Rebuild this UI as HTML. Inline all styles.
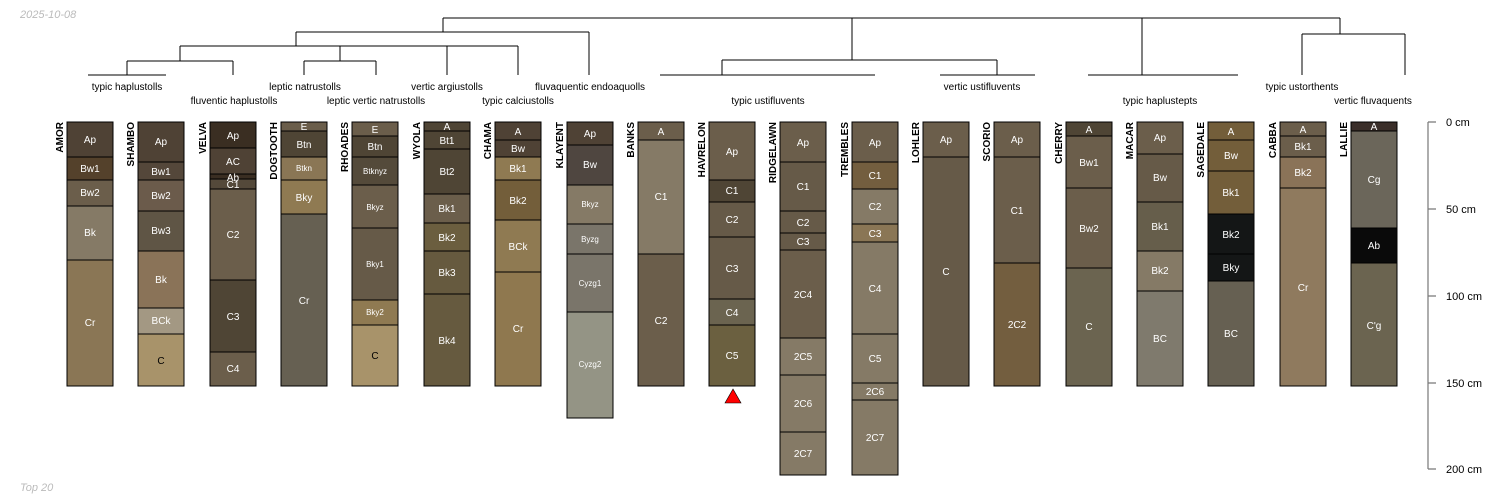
<!DOCTYPE html>
<html><head><meta charset="utf-8"><style>
html,body{margin:0;padding:0;background:#fff;}
svg{display:block;font-family:"Liberation Sans",sans-serif;}
.h text{fill:#fff;font-size:10px;text-anchor:middle;}
.h rect{stroke:#000;stroke-width:1;}
.n{font-size:10px;font-weight:bold;fill:#000;}
.d{stroke:#000;stroke-width:1;fill:none;}
.t{font-size:10px;fill:#000;text-anchor:middle;}
</style></head><body>
<svg width="1500" height="500" viewBox="0 0 1500 500" xmlns="http://www.w3.org/2000/svg">
<text x="20" y="18" font-size="11" font-style="italic" fill="#bbb">2025-10-08</text>
<text x="20" y="491" font-size="11" font-style="italic" fill="#bbb">Top 20</text>

<!-- dendrogram -->
<g class="d">
<path d="M443 18H1340M443 18V32M296 32H589M589 32V75M296 32V46M180 46H518M180 46V61M127 61H233M127 61V75M88 75H166M233 61V75M340 46V61M304 61H376M304 61V75M376 61V75M447 46V75M518 46V75"/>
<path d="M852 18V60M722 60H997M722 60V75M660 75H875M997 60V75M940 75H1035M1142 18V75M1088 75H1238M1340 18V34M1302 34H1405M1302 34V75M1405 34V75"/>
</g>
<text class="t" x="127" y="90">typic haplustolls</text>
<text class="t" x="234" y="104">fluventic haplustolls</text>
<text class="t" x="305" y="90">leptic natrustolls</text>
<text class="t" x="376" y="104">leptic vertic natrustolls</text>
<text class="t" x="447" y="90">vertic argiustolls</text>
<text class="t" x="518" y="104">typic calciustolls</text>
<text class="t" x="590" y="90">fluvaquentic endoaquolls</text>
<text class="t" x="768" y="104">typic ustifluvents</text>
<text class="t" x="982" y="90">vertic ustifluvents</text>
<text class="t" x="1160" y="104">typic haplustepts</text>
<text class="t" x="1302" y="90">typic ustorthents</text>
<text class="t" x="1373" y="104">vertic fluvaquents</text>

<!-- AMOR -->
<g class="h" transform="translate(67,0)">
<rect x="0" y="122" width="46" height="35" fill="#4f4235"/><text x="23" y="143">Ap</text>
<rect x="0" y="157" width="46" height="23" fill="#54412b"/><text x="23" y="172">Bw1</text>
<rect x="0" y="180" width="46" height="26" fill="#6b5e4b"/><text x="23" y="196">Bw2</text>
<rect x="0" y="206" width="46" height="54" fill="#857a66"/><text x="23" y="236">Bk</text>
<rect x="0" y="260" width="46" height="126" fill="#8a7655"/><text x="23" y="326">Cr</text>
</g>
<text class="n" transform="translate(63,122) rotate(-90)" text-anchor="end">AMOR</text>
<!-- SHAMBO -->
<g class="h" transform="translate(138,0)">
<rect x="0" y="122" width="46" height="40" fill="#4f4235"/><text x="23" y="145">Ap</text>
<rect x="0" y="162" width="46" height="18" fill="#54473a"/><text x="23" y="175">Bw1</text>
<rect x="0" y="180" width="46" height="31" fill="#6b5b4b"/><text x="23" y="199">Bw2</text>
<rect x="0" y="211" width="46" height="40" fill="#5f5545"/><text x="23" y="234">Bw3</text>
<rect x="0" y="251" width="46" height="57" fill="#8a7358"/><text x="23" y="283">Bk</text>
<rect x="0" y="308" width="46" height="26" fill="#a39883"/><text x="23" y="324">BCk</text>
<rect x="0" y="334" width="46" height="52" fill="#a8936a"/><text x="23" y="364" style="fill:#000">C</text>
</g>
<text class="n" transform="translate(134,122) rotate(-90)" text-anchor="end">SHAMBO</text>
<!-- VELVA -->
<g class="h" transform="translate(210,0)">
<rect x="0" y="122" width="46" height="26" fill="#3a2e22"/><text x="23" y="139">Ap</text>
<rect x="0" y="148" width="46" height="26" fill="#4f4235"/><text x="23" y="165">AC</text>
<rect x="0" y="174" width="46" height="5" fill="#3a2e22"/>
<rect x="0" y="179" width="46" height="10" fill="#54493a"/><text x="23" y="181">Ab</text><text x="23" y="188">C1</text>
<rect x="0" y="189" width="46" height="91" fill="#6b5e4b"/><text x="23" y="238">C2</text>
<rect x="0" y="280" width="46" height="72" fill="#4f4535"/><text x="23" y="320">C3</text>
<rect x="0" y="352" width="46" height="34" fill="#6b5e4b"/><text x="23" y="372">C4</text>
</g>
<text class="n" transform="translate(206,122) rotate(-90)" text-anchor="end">VELVA</text>
<!-- DOGTOOTH -->
<g class="h" transform="translate(281,0)">
<rect x="0" y="122" width="46" height="9" fill="#6b5e4b"/><text x="23" y="130">E</text>
<rect x="0" y="131" width="46" height="26" fill="#4f4535"/><text x="23" y="148">Btn</text>
<rect x="0" y="157" width="46" height="23" fill="#8a7655"/><text x="23" y="171" style="font-size:8px">Btkn</text>
<rect x="0" y="180" width="46" height="34" fill="#8f7a52"/><text x="23" y="201">Bky</text>
<rect x="0" y="214" width="46" height="172" fill="#666052"/><text x="23" y="304">Cr</text>
</g>
<text class="n" transform="translate(277,122) rotate(-90)" text-anchor="end">DOGTOOTH</text>
<!-- RHOADES -->
<g class="h" transform="translate(352,0)">
<rect x="0" y="122" width="46" height="14" fill="#6b5e4b"/><text x="23" y="133">E</text>
<rect x="0" y="136" width="46" height="21" fill="#4f4535"/><text x="23" y="150">Btn</text>
<rect x="0" y="157" width="46" height="28" fill="#544a3a"/><text x="23" y="174" style="font-size:8px">Btknyz</text>
<rect x="0" y="185" width="46" height="43" fill="#6b5e4b"/><text x="23" y="210" style="font-size:8px">Bkyz</text>
<rect x="0" y="228" width="46" height="72" fill="#665a48"/><text x="23" y="267" style="font-size:8px">Bky1</text>
<rect x="0" y="300" width="46" height="25" fill="#8f7a52"/><text x="23" y="315" style="font-size:8px">Bky2</text>
<rect x="0" y="325" width="46" height="61" fill="#a8936a"/><text x="23" y="359" style="fill:#000">C</text>
</g>
<text class="n" transform="translate(348,122) rotate(-90)" text-anchor="end">RHOADES</text>
<!-- WYOLA -->
<g class="h" transform="translate(424,0)">
<rect x="0" y="122" width="46" height="9" fill="#4f4535"/><text x="23" y="130">A</text>
<rect x="0" y="131" width="46" height="18" fill="#4f4535"/><text x="23" y="144">Bt1</text>
<rect x="0" y="149" width="46" height="45" fill="#4f4535"/><text x="23" y="175">Bt2</text>
<rect x="0" y="194" width="46" height="29" fill="#6b5e4b"/><text x="23" y="212">Bk1</text>
<rect x="0" y="223" width="46" height="28" fill="#6b5e3f"/><text x="23" y="241">Bk2</text>
<rect x="0" y="251" width="46" height="43" fill="#665a3f"/><text x="23" y="276">Bk3</text>
<rect x="0" y="294" width="46" height="92" fill="#665a3f"/><text x="23" y="344">Bk4</text>
</g>
<text class="n" transform="translate(420,122) rotate(-90)" text-anchor="end">WYOLA</text>
<!-- CHAMA -->
<g class="h" transform="translate(495,0)">
<rect x="0" y="122" width="46" height="18" fill="#4f4235"/><text x="23" y="135">A</text>
<rect x="0" y="140" width="46" height="17" fill="#4f4235"/><text x="23" y="152">Bw</text>
<rect x="0" y="157" width="46" height="23" fill="#8f7a52"/><text x="23" y="172">Bk1</text>
<rect x="0" y="180" width="46" height="40" fill="#735e3a"/><text x="23" y="204">Bk2</text>
<rect x="0" y="220" width="46" height="52" fill="#8f7a52"/><text x="23" y="250">BCk</text>
<rect x="0" y="272" width="46" height="114" fill="#8f784f"/><text x="23" y="332">Cr</text>
</g>
<text class="n" transform="translate(491,122) rotate(-90)" text-anchor="end">CHAMA</text>
<!-- KLAYENT -->
<g class="h" transform="translate(567,0)">
<rect x="0" y="122" width="46" height="23" fill="#4f4235"/><text x="23" y="137">Ap</text>
<rect x="0" y="145" width="46" height="40" fill="#4f4640"/><text x="23" y="168">Bw</text>
<rect x="0" y="185" width="46" height="39" fill="#857a66"/><text x="23" y="207" style="font-size:8px">Bkyz</text>
<rect x="0" y="224" width="46" height="30" fill="#7a756a"/><text x="23" y="242" style="font-size:8px">Byzg</text>
<rect x="0" y="254" width="46" height="58" fill="#7a756a"/><text x="23" y="286" style="font-size:8px">Cyzg1</text>
<rect x="0" y="312" width="46" height="106" fill="#949485"/><text x="23" y="367" style="font-size:8px">Cyzg2</text>
</g>
<text class="n" transform="translate(563,122) rotate(-90)" text-anchor="end">KLAYENT</text>
<!-- BANKS -->
<g class="h" transform="translate(638,0)">
<rect x="0" y="122" width="46" height="18" fill="#6b5e4b"/><text x="23" y="135">A</text>
<rect x="0" y="140" width="46" height="114" fill="#857a66"/><text x="23" y="200">C1</text>
<rect x="0" y="254" width="46" height="132" fill="#6b5e4b"/><text x="23" y="324">C2</text>
</g>
<text class="n" transform="translate(634,122) rotate(-90)" text-anchor="end">BANKS</text>
<!-- HAVRELON -->
<g class="h" transform="translate(709,0)">
<rect x="0" y="122" width="46" height="58" fill="#6b5e4b"/><text x="23" y="155">Ap</text>
<rect x="0" y="180" width="46" height="22" fill="#4f4535"/><text x="23" y="194">C1</text>
<rect x="0" y="202" width="46" height="35" fill="#665a48"/><text x="23" y="223">C2</text>
<rect x="0" y="237" width="46" height="62" fill="#665a48"/><text x="23" y="272">C3</text>
<rect x="0" y="299" width="46" height="26" fill="#6b6450"/><text x="23" y="316">C4</text>
<rect x="0" y="325" width="46" height="61" fill="#6b6040"/><text x="23" y="359">C5</text>
</g>
<polygon points="733,389 725,403 741,403" fill="#f00" stroke="#000" stroke-width="0.6"/>
<text class="n" transform="translate(705,122) rotate(-90)" text-anchor="end">HAVRELON</text>
<!-- RIDGELAWN -->
<g class="h" transform="translate(780,0)">
<rect x="0" y="122" width="46" height="40" fill="#6b5e4b"/><text x="23" y="146">Ap</text>
<rect x="0" y="162" width="46" height="49" fill="#665a48"/><text x="23" y="190">C1</text>
<rect x="0" y="211" width="46" height="22" fill="#665a48"/><text x="23" y="226">C2</text>
<rect x="0" y="233" width="46" height="17" fill="#665a48"/><text x="23" y="245">C3</text>
<rect x="0" y="250" width="46" height="88" fill="#6b5e4b"/><text x="23" y="298">2C4</text>
<rect x="0" y="338" width="46" height="37" fill="#857a66"/><text x="23" y="360">2C5</text>
<rect x="0" y="375" width="46" height="57" fill="#857a66"/><text x="23" y="407">2C6</text>
<rect x="0" y="432" width="46" height="43" fill="#857a66"/><text x="23" y="457">2C7</text>
</g>
<text class="n" transform="translate(776,122) rotate(-90)" text-anchor="end">RIDGELAWN</text>
<!-- TREMBLES -->
<g class="h" transform="translate(852,0)">
<rect x="0" y="122" width="46" height="40" fill="#6b5e4b"/><text x="23" y="146">Ap</text>
<rect x="0" y="162" width="46" height="27" fill="#735e3f"/><text x="23" y="179">C1</text>
<rect x="0" y="189" width="46" height="35" fill="#857a66"/><text x="23" y="210">C2</text>
<rect x="0" y="224" width="46" height="18" fill="#8a7655"/><text x="23" y="237">C3</text>
<rect x="0" y="242" width="46" height="92" fill="#857a66"/><text x="23" y="292">C4</text>
<rect x="0" y="334" width="46" height="49" fill="#857a66"/><text x="23" y="362">C5</text>
<rect x="0" y="383" width="46" height="17" fill="#857a66"/><text x="23" y="395">2C6</text>
<rect x="0" y="400" width="46" height="75" fill="#857a66"/><text x="23" y="441">2C7</text>
</g>
<text class="n" transform="translate(848,122) rotate(-90)" text-anchor="end">TREMBLES</text>
<!-- LOHLER -->
<g class="h" transform="translate(923,0)">
<rect x="0" y="122" width="46" height="35" fill="#6b5e4b"/><text x="23" y="143">Ap</text>
<rect x="0" y="157" width="46" height="229" fill="#665a48"/><text x="23" y="275">C</text>
</g>
<text class="n" transform="translate(919,122) rotate(-90)" text-anchor="end">LOHLER</text>
<!-- SCORIO -->
<g class="h" transform="translate(994,0)">
<rect x="0" y="122" width="46" height="35" fill="#6b5e4b"/><text x="23" y="143">Ap</text>
<rect x="0" y="157" width="46" height="106" fill="#6b5e4b"/><text x="23" y="214">C1</text>
<rect x="0" y="263" width="46" height="123" fill="#735e3f"/><text x="23" y="328">2C2</text>
</g>
<text class="n" transform="translate(990,122) rotate(-90)" text-anchor="end">SCORIO</text>
<!-- CHERRY -->
<g class="h" transform="translate(1066,0)">
<rect x="0" y="122" width="46" height="14" fill="#4f4535"/><text x="23" y="133">A</text>
<rect x="0" y="136" width="46" height="52" fill="#6b5e4b"/><text x="23" y="166">Bw1</text>
<rect x="0" y="188" width="46" height="80" fill="#6b5e4b"/><text x="23" y="232">Bw2</text>
<rect x="0" y="268" width="46" height="118" fill="#6b6450"/><text x="23" y="330">C</text>
</g>
<text class="n" transform="translate(1062,122) rotate(-90)" text-anchor="end">CHERRY</text>
<!-- MACAR -->
<g class="h" transform="translate(1137,0)">
<rect x="0" y="122" width="46" height="32" fill="#6b5e4b"/><text x="23" y="141">Ap</text>
<rect x="0" y="154" width="46" height="48" fill="#665a48"/><text x="23" y="181">Bw</text>
<rect x="0" y="202" width="46" height="49" fill="#665e4b"/><text x="23" y="230">Bk1</text>
<rect x="0" y="251" width="46" height="40" fill="#857a66"/><text x="23" y="274">Bk2</text>
<rect x="0" y="291" width="46" height="95" fill="#7f7a6d"/><text x="23" y="342">BC</text>
</g>
<text class="n" transform="translate(1133,122) rotate(-90)" text-anchor="end">MACAR</text>
<!-- SAGEDALE -->
<g class="h" transform="translate(1208,0)">
<rect x="0" y="122" width="46" height="18" fill="#735e3a"/><text x="23" y="135">A</text>
<rect x="0" y="140" width="46" height="31" fill="#735e3a"/><text x="23" y="159">Bw</text>
<rect x="0" y="171" width="46" height="43" fill="#735e3a"/><text x="23" y="196">Bk1</text>
<rect x="0" y="214" width="46" height="40" fill="#141616"/><text x="23" y="238">Bk2</text>
<rect x="0" y="254" width="46" height="27" fill="#141616"/><text x="23" y="271">Bky</text>
<rect x="0" y="281" width="46" height="105" fill="#666052"/><text x="23" y="337">BC</text>
</g>
<text class="n" transform="translate(1204,122) rotate(-90)" text-anchor="end">SAGEDALE</text>
<!-- CABBA -->
<g class="h" transform="translate(1280,0)">
<rect x="0" y="122" width="46" height="14" fill="#6b5e4b"/><text x="23" y="133">A</text>
<rect x="0" y="136" width="46" height="21" fill="#6b5e4b"/><text x="23" y="150">Bk1</text>
<rect x="0" y="157" width="46" height="31" fill="#8a7358"/><text x="23" y="176">Bk2</text>
<rect x="0" y="188" width="46" height="198" fill="#8f7a5e"/><text x="23" y="291">Cr</text>
</g>
<text class="n" transform="translate(1276,122) rotate(-90)" text-anchor="end">CABBA</text>
<!-- LALLIE -->
<g class="h" transform="translate(1351,0)">
<rect x="0" y="122" width="46" height="9" fill="#3a2e29"/><text x="23" y="130">A</text>
<rect x="0" y="131" width="46" height="97" fill="#6b665a"/><text x="23" y="183">Cg</text>
<rect x="0" y="228" width="46" height="35" fill="#0a0a0a"/><text x="23" y="249">Ab</text>
<rect x="0" y="263" width="46" height="123" fill="#6b6450"/><text x="23" y="329">C'g</text>
</g>
<text class="n" transform="translate(1347,122) rotate(-90)" text-anchor="end">LALLIE</text>

<!-- depth axis -->
<g stroke="#777" stroke-width="1.2">
<path d="M1428 122V469M1428 122H1436M1428 209H1436M1428 296H1436M1428 383H1436M1428 469H1436"/>
</g>
<g font-size="11" fill="#000">
<text x="1446" y="126">0 cm</text>
<text x="1446" y="213">50 cm</text>
<text x="1446" y="300">100 cm</text>
<text x="1446" y="387">150 cm</text>
<text x="1446" y="473">200 cm</text>
</g>
</svg>
</body></html>
